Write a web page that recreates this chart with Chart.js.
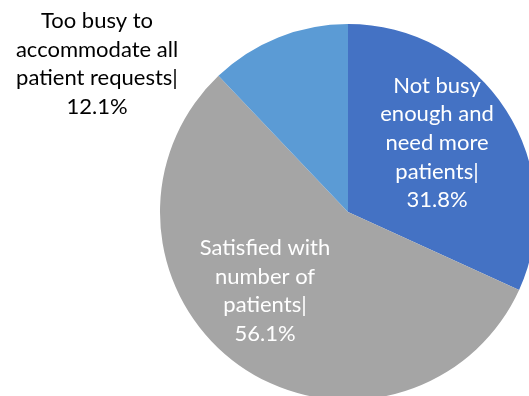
<!DOCTYPE html>
<html lang="en">
<head>
    <meta charset="UTF-8">
    <title>Practice Capacity</title>
    <script src="https://cdn.jsdelivr.net/npm/chart.js"></script>
    <style>
        html, body {
            margin: 0;
            padding: 0;
            background: #ffffff;
            overflow: hidden;
            width: 529px;
            height: 396px;
        }
        #capacityChart {
            position: absolute;
            left: 0;
            top: 0;
        }
    </style>
</head>
<body>
<canvas id="capacityChart" width="540" height="400"></canvas>

<script>
    const categories = [
        'Not busy enough and need more patients',
        'Satisfied with number of patients',
        'Too busy to accommodate all patient requests'
    ];
    const shares = [31.8, 56.1, 12.1];
    const sliceColors = ['#4472C4', '#A5A5A5', '#5B9BD5'];

    // wrapped label text, last line gets the percentage
    const labelLines = [
        ['Not busy', 'enough and', 'need more', 'patients|'],
        ['Satisfied with', 'number of', 'patients|'],
        ['Too busy to', 'accommodate all', 'patient requests|']
    ];
    const labelSpots = [[437, 143], [265, 291], [97, 64]];
    const labelColors = ['#ffffff', '#ffffff', '#000000'];

    const sliceLabels = {
        id: 'sliceLabels',
        afterDatasetsDraw(chart) {
            const ctx = chart.ctx;
            ctx.save();
            ctx.font = '22px Lato, "Open Sans", sans-serif';
            ctx.textAlign = 'center';
            ctx.textBaseline = 'middle';
            const lineH = 28.7;
            labelLines.forEach((lines, i) => {
                const all = lines.concat([shares[i].toFixed(1) + '%']);
                const [cx, cy] = labelSpots[i];
                const top = cy - (all.length - 1) * lineH / 2;
                ctx.fillStyle = labelColors[i];
                all.forEach((t, j) => ctx.fillText(t, cx, top + j * lineH));
            });
            ctx.restore();
        }
    };

    new Chart(document.getElementById('capacityChart'), {
        type: 'pie',
        data: {
            labels: categories,
            datasets: [{
                data: shares,
                backgroundColor: sliceColors,
                borderWidth: 0
            }]
        },
        options: {
            responsive: false,
            animation: false,
            layout: {
                padding: { left: 160, top: 24, right: 4, bottom: 0 }
            },
            plugins: {
                legend: { display: false },
                tooltip: { enabled: false }
            }
        },
        plugins: [sliceLabels]
    });
</script>
</body>
</html>
